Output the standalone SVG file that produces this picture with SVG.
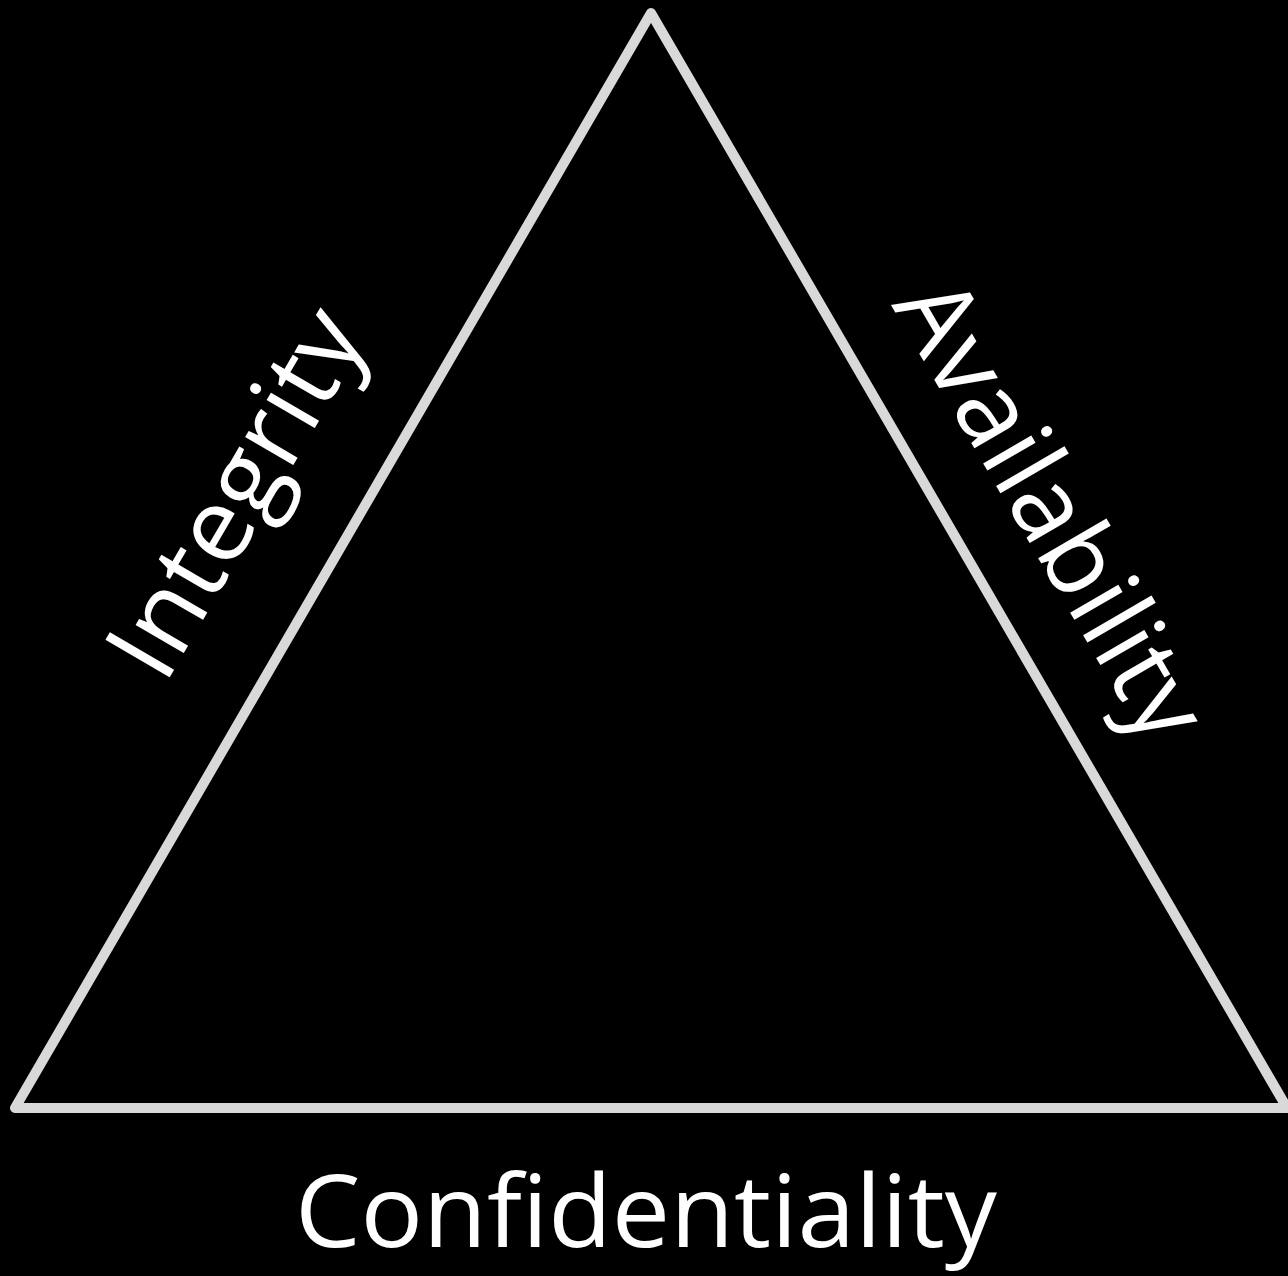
<svg xmlns="http://www.w3.org/2000/svg" width="1288" height="1276" viewBox="0 0 1288 1276">
  <style>
    .edge { fill: none; stroke: #d9d9d9; stroke-width: 10; stroke-linejoin: round; }
    .lbl { fill: #ffffff; font-family: "Open Sans", "Noto Sans", "Liberation Sans", sans-serif; font-size: 104px; }
  </style>
  <rect x="0" y="0" width="1288" height="1276" fill="#000000"/>
  <g id="triangle">
    <polygon class="edge" points="651,13 15,1108 1287,1108"/>
  </g>
  <g id="integrity">
    <text class="lbl" transform="translate(164.5,686) rotate(-59.8)" x="0" y="0" textLength="406" lengthAdjust="spacingAndGlyphs">Integrity</text>
  </g>
  <g id="availability">
    <text class="lbl" transform="translate(891,305) rotate(59.8)" x="0" y="0" textLength="514" lengthAdjust="spacingAndGlyphs">Availability</text>
  </g>
  <g id="confidentiality">
    <text class="lbl" x="295" y="1247" style="font-size:100px" textLength="702" lengthAdjust="spacingAndGlyphs">Confidentiality</text>
  </g>
</svg>
